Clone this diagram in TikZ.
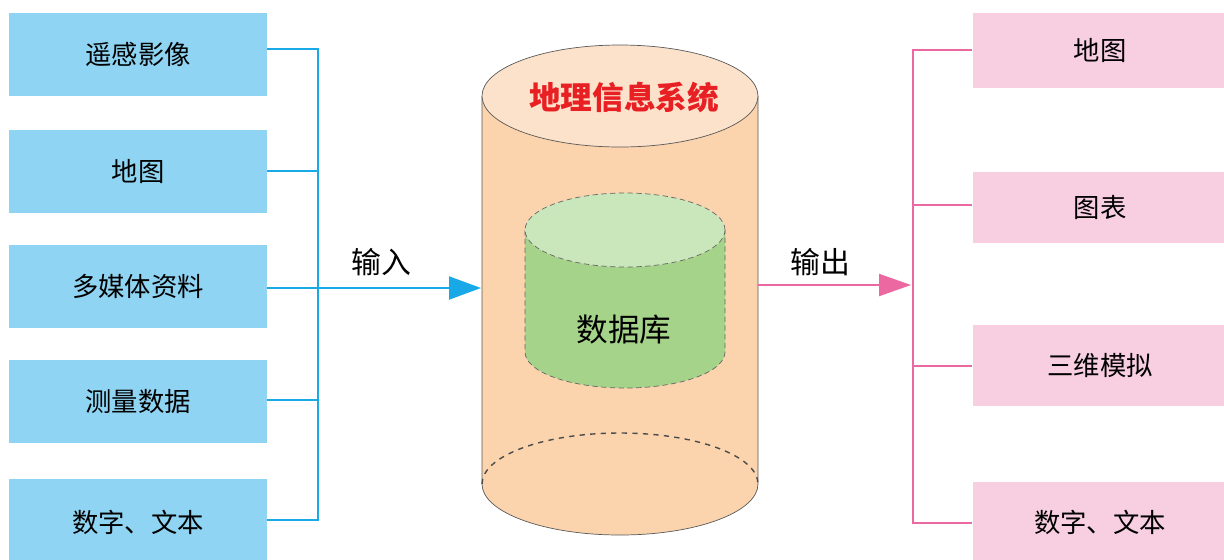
\documentclass[tikz,border=0pt]{standalone}
\usepackage{fontspec}
\setmainfont{Noto Sans CJK SC}
\usetikzlibrary{arrows.meta}
\definecolor{inbox}{RGB}{143,212,242}
\definecolor{inline}{RGB}{24,169,230}
\definecolor{outbox}{RGB}{247,207,224}
\definecolor{outline}{RGB}{236,104,160}
\definecolor{gisbody}{RGB}{251,211,172}
\definecolor{gistop}{RGB}{252,226,202}
\definecolor{dbbody}{RGB}{166,211,138}
\definecolor{dbtop}{RGB}{202,231,187}
\definecolor{titlered}{RGB}{232,32,36}
\tikzset{
  inbox/.style={fill=inbox, minimum width=5.16cm, inner sep=0pt, font=\fontsize{15}{18}\selectfont},
  outbox/.style={fill=outbox, minimum width=5.1cm, inner sep=0pt, font=\fontsize{15}{18}\selectfont},
  inwire/.style={inline, line width=1.2pt},
  outwire/.style={outline, line width=1.2pt},
  flowtext/.style={font=\fontsize{17}{20}\selectfont}
}
\begin{document}
\begin{tikzpicture}[x=0.02cm, y=-0.02cm]
  \useasboundingbox (0,0) rectangle (1224,559);
  % 输入数据
  \node[inbox, minimum height=1.66cm] (in1) at (138,54.5) {遥感影像};
  \node[inbox, minimum height=1.66cm] (in2) at (138,171.5) {地图};
  \node[inbox, minimum height=1.66cm] (in3) at (138,286.5) {多媒体资料};
  \node[inbox, minimum height=1.66cm] (in4) at (138,401.5) {测量数据};
  \node[inbox, minimum height=1.74cm] (in5) at (138,522.5) {数字、文本};
  % 输出结果
  \node[outbox, minimum height=1.5cm] (out1) at (1100,50.5) {地图};
  \node[outbox, minimum height=1.42cm] (out2) at (1100,207.5) {图表};
  \node[outbox, minimum height=1.62cm] (out3) at (1100,365.5) {三维模拟};
  \node[outbox, minimum height=1.6cm] (out4) at (1100,522) {数字、文本};
  % 外层圆柱：地理信息系统
  \fill[gisbody] (482,96) -- (482,484) arc[start angle=180, end angle=0, x radius=138, y radius=51] -- (758,96) -- cycle;
  \draw[black!65, thin] (482,96) -- (482,484) arc[start angle=180, end angle=0, x radius=138, y radius=51] -- (758,96);
  \draw[black!70, thick, dashed] (482,484) arc[start angle=180, end angle=360, x radius=138, y radius=51];
  \filldraw[fill=gistop, draw=black!65, thin] (620,96) ellipse[x radius=138, y radius=51];
  \node[font=\fontsize{18}{21}\selectfont\bfseries, text=titlered] (gis) at (624,97) {地理信息系统};
  % 内层圆柱：数据库
  \fill[dbbody] (525,230) -- (525,352) arc[start angle=180, end angle=0, x radius=100, y radius=36] -- (725,230) -- cycle;
  \draw[black!60, densely dashed, thin] (525,230) -- (525,352) arc[start angle=180, end angle=0, x radius=100, y radius=36] -- (725,230);
  \filldraw[fill=dbtop, draw=black!60, densely dashed, thin] (625,230) ellipse[x radius=100, y radius=37];
  \node[font=\fontsize{18}{21}\selectfont] (db) at (624,330) {数据库};
  \coordinate (gisin) at (481,288);
  \coordinate (gisout) at (758,285);
  % 左侧汇线
  \coordinate (inbus1) at (318,49);
  \coordinate (inbus5) at (318,520);
  \coordinate (inbus3) at (318,288);
  \draw[inwire] (in1.east |- inbus1) -- (inbus1) -- (inbus5) -- (in5.east |- inbus5);
  \foreach \k/\yy in {2/171, 4/400} {
    \draw[inwire] (in\k.east |- 0,\yy) -- (318,\yy);
  }
  \draw[inwire, -{Triangle[length=0.64cm, width=0.46cm]}] (in3.east |- inbus3) -- (gisin);
  \node[flowtext] (intext) at (381,262) {输入};
  % 右侧分线
  \coordinate (outbus1) at (913,50);
  \coordinate (outbus4) at (913,523);
  \coordinate (outtip) at (911,285);
  \draw[outwire, -{Triangle[length=0.64cm, width=0.44cm]}] (gisout) -- (outtip);
  \node[flowtext] (outtext) at (820,262) {输出};
  \draw[outwire] (out1.west |- outbus1) -- (outbus1) -- (outbus4) -- (out4.west |- outbus4);
  \foreach \k/\yy in {2/205, 3/366} {
    \draw[outwire] (913,\yy) -- (out\k.west |- 0,\yy);
  }
\end{tikzpicture}
\end{document}
